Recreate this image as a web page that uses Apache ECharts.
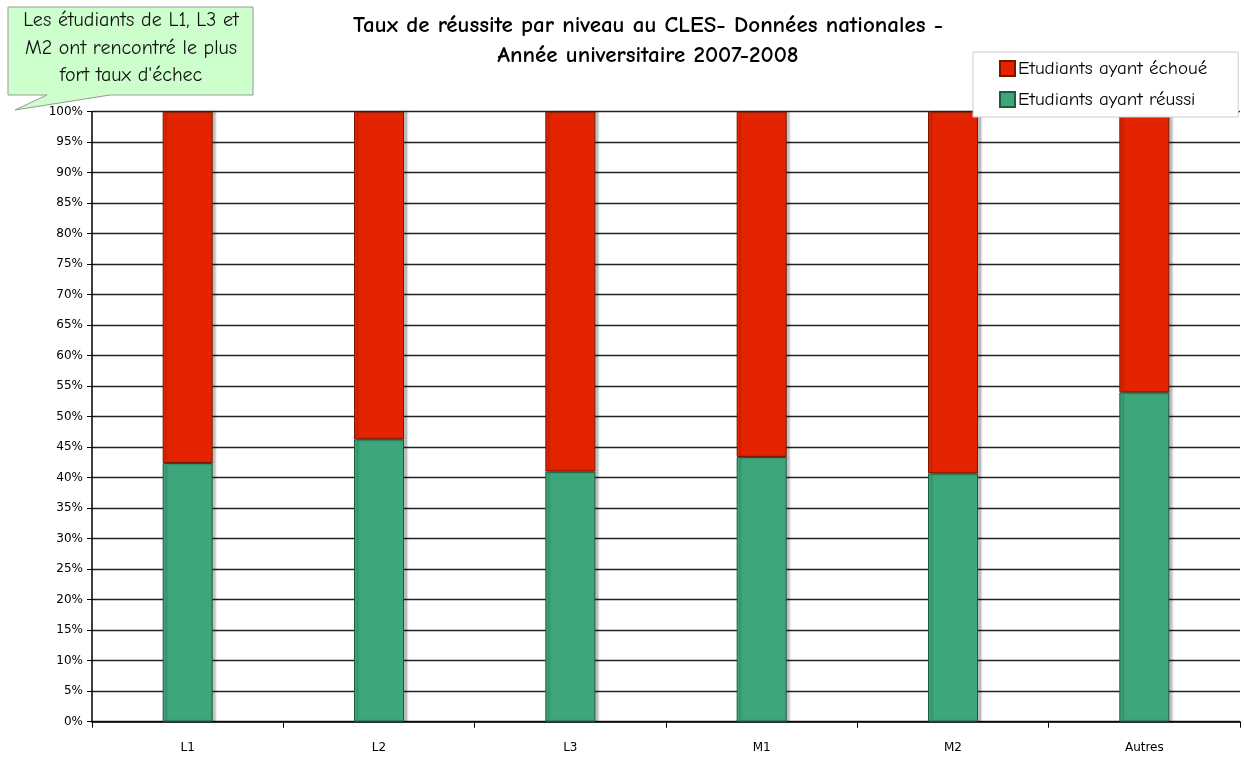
<!DOCTYPE html>
<html><head><meta charset="utf-8">
<script src="https://cdn.jsdelivr.net/npm/echarts@6/dist/echarts.min.js"></script>
<style>html,body{margin:0;padding:0;background:#fff}#c{width:1244px;height:760px}</style>
</head><body><div id="c"></div>
<script>
const categories = ['L1', 'L2', 'L3', 'M1', 'M2', 'Autres'];
const reussi = [42.4, 46.3, 41.0, 43.4, 40.7, 54.0];
const echoue = reussi.map(v => +(100 - v).toFixed(1));
const yTicks = [0, 5, 10, 15, 20, 25, 30, 35, 40, 45, 50, 55, 60, 65, 70, 75, 80, 85, 90, 95, 100];
const seriesNames = ['Etudiants ayant réussi', 'Etudiants ayant échoué'];

const comic = '"Comic Sans MS", "Comic Neue", "DejaVu Sans", sans-serif';
const chart = echarts.init(document.getElementById('c'));
chart.setOption({
  animation: false,
  backgroundColor: '#fff',
  title: {
    text: 'Taux de réussite par niveau au CLES- Données nationales -\nAnnée universitaire 2007-2008',
    left: 643, top: 5, textAlign: 'center',
    textStyle: { fontFamily: comic, fontWeight: 'bold', fontSize: 23, lineHeight: 30, color: '#000' }
  },
  legend: {
    data: [seriesNames[1], seriesNames[0]],
    orient: 'vertical', left: 973, top: 52,
    backgroundColor: '#fff', borderColor: '#ccc', borderWidth: 1,
    padding: [7, 31, 8, 26], itemWidth: 15, itemHeight: 15, itemGap: 12,
    icon: 'rect',
    textStyle: { fontFamily: comic, fontSize: 19, color: '#000', padding: [0, 0, 0, -2] }
  },
  grid: { left: 92, right: 4, top: 111.7, bottom: 38.3, containLabel: false },
  xAxis: {
    type: 'category', data: categories,
    axisLine: { lineStyle: { color: '#000', width: 1.5 } },
    axisTick: { show: true, length: 6, lineStyle: { color: '#000' } },
    axisLabel: { fontFamily: '"DejaVu Sans", sans-serif', fontSize: 12, color: '#000', margin: 20 }
  },
  yAxis: {
    type: 'value', min: 0, max: 100, interval: 5,
    axisLine: { show: true, lineStyle: { color: '#000', width: 1.5 } },
    axisTick: { show: true, length: 5, lineStyle: { color: '#000' } },
    axisLabel: { formatter: v => yTicks.includes(v) ? v + '%' : '', fontFamily: '"DejaVu Sans", sans-serif', fontSize: 12, color: '#000', margin: 9 },
    splitLine: { lineStyle: { color: '#222', width: 1.3 } }
  },
  series: [
    { name: seriesNames[0], type: 'bar', stack: 't', data: reussi, barWidth: 50,
      itemStyle: { color: '#3da67a', borderColor: '#1e5a40', borderWidth: 1, shadowColor: 'rgba(0,0,0,0.25)', shadowOffsetX: 3, shadowBlur: 2 } },
    { name: seriesNames[1], type: 'bar', stack: 't', data: echoue, barWidth: 50,
      itemStyle: { color: '#e42400', borderColor: '#7a1500', borderWidth: 1, shadowColor: 'rgba(0,0,0,0.25)', shadowOffsetX: 3, shadowBlur: 2 } }
  ],
  graphic: [
    { type: 'polygon', z: 100,
      shape: { points: [[8,7],[253,7],[253,95],[110,95],[15,110],[47,95],[8,95]] },
      style: { fill: '#ccffcc', stroke: '#999', lineWidth: 1 } },
    { type: 'text', z: 101, x: 131, y: 7,
      style: { text: 'Les étudiants de L1, L3 et\nM2 ont rencontré le plus\nfort taux d\'échec',
        textAlign: 'center', textVerticalAlign: 'top', font: '20px ' + comic, lineHeight: 27.5, fill: '#111' } }
  ]
});
</script></body></html>
